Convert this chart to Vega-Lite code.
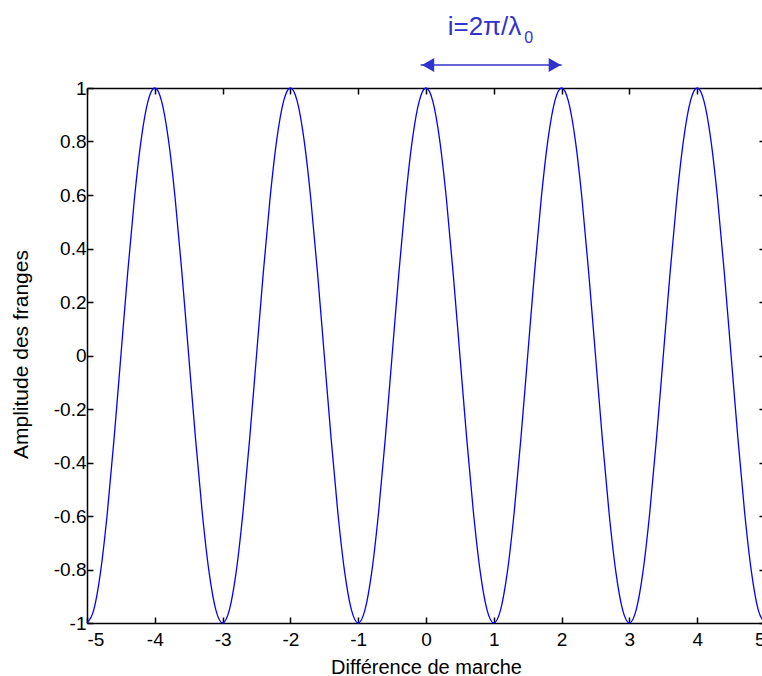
{
  "$schema": "https://vega.github.io/schema/vega-lite/v6.json",
  "width": 678,
  "height": 535,
  "autosize": {"type": "none"},
  "padding": {"left": 87, "top": 88, "right": 0, "bottom": 53},
  "background": "white",
  "config": {
    "view": {"stroke": null},
    "axis": {
      "labelFont": "Liberation Sans",
      "labelFontSize": 19,
      "labelColor": "black",
      "titleFont": "Liberation Sans",
      "titleFontSize": 20,
      "titleFontWeight": "normal",
      "titleColor": "black",
      "domainColor": "black",
      "domainWidth": 1.5,
      "tickColor": "black",
      "tickWidth": 1.5,
      "tickSize": -6,
      "grid": false
    }
  },
  "datasets": {
    "curve": [
      {"x": -5, "y": -1}, {"x": -4.9, "y": -0.9511}, {"x": -4.8, "y": -0.809}, {"x": -4.7, "y": -0.5878}, {"x": -4.6, "y": -0.309},
      {"x": -4.5, "y": 0}, {"x": -4.4, "y": 0.309}, {"x": -4.3, "y": 0.5878}, {"x": -4.2, "y": 0.809}, {"x": -4.1, "y": 0.9511},
      {"x": -4, "y": 1}, {"x": -3.9, "y": 0.9511}, {"x": -3.8, "y": 0.809}, {"x": -3.7, "y": 0.5878}, {"x": -3.6, "y": 0.309},
      {"x": -3.5, "y": 0}, {"x": -3.4, "y": -0.309}, {"x": -3.3, "y": -0.5878}, {"x": -3.2, "y": -0.809}, {"x": -3.1, "y": -0.9511},
      {"x": -3, "y": -1}, {"x": -2.9, "y": -0.9511}, {"x": -2.8, "y": -0.809}, {"x": -2.7, "y": -0.5878}, {"x": -2.6, "y": -0.309},
      {"x": -2.5, "y": 0}, {"x": -2.4, "y": 0.309}, {"x": -2.3, "y": 0.5878}, {"x": -2.2, "y": 0.809}, {"x": -2.1, "y": 0.9511},
      {"x": -2, "y": 1}, {"x": -1.9, "y": 0.9511}, {"x": -1.8, "y": 0.809}, {"x": -1.7, "y": 0.5878}, {"x": -1.6, "y": 0.309},
      {"x": -1.5, "y": 0}, {"x": -1.4, "y": -0.309}, {"x": -1.3, "y": -0.5878}, {"x": -1.2, "y": -0.809}, {"x": -1.1, "y": -0.9511},
      {"x": -1, "y": -1}, {"x": -0.9, "y": -0.9511}, {"x": -0.8, "y": -0.809}, {"x": -0.7, "y": -0.5878}, {"x": -0.6, "y": -0.309},
      {"x": -0.5, "y": 0}, {"x": -0.4, "y": 0.309}, {"x": -0.3, "y": 0.5878}, {"x": -0.2, "y": 0.809}, {"x": -0.1, "y": 0.9511},
      {"x": 0, "y": 1}, {"x": 0.1, "y": 0.9511}, {"x": 0.2, "y": 0.809}, {"x": 0.3, "y": 0.5878}, {"x": 0.4, "y": 0.309},
      {"x": 0.5, "y": 0}, {"x": 0.6, "y": -0.309}, {"x": 0.7, "y": -0.5878}, {"x": 0.8, "y": -0.809}, {"x": 0.9, "y": -0.9511},
      {"x": 1, "y": -1}, {"x": 1.1, "y": -0.9511}, {"x": 1.2, "y": -0.809}, {"x": 1.3, "y": -0.5878}, {"x": 1.4, "y": -0.309},
      {"x": 1.5, "y": 0}, {"x": 1.6, "y": 0.309}, {"x": 1.7, "y": 0.5878}, {"x": 1.8, "y": 0.809}, {"x": 1.9, "y": 0.9511},
      {"x": 2, "y": 1}, {"x": 2.1, "y": 0.9511}, {"x": 2.2, "y": 0.809}, {"x": 2.3, "y": 0.5878}, {"x": 2.4, "y": 0.309},
      {"x": 2.5, "y": 0}, {"x": 2.6, "y": -0.309}, {"x": 2.7, "y": -0.5878}, {"x": 2.8, "y": -0.809}, {"x": 2.9, "y": -0.9511},
      {"x": 3, "y": -1}, {"x": 3.1, "y": -0.9511}, {"x": 3.2, "y": -0.809}, {"x": 3.3, "y": -0.5878}, {"x": 3.4, "y": -0.309},
      {"x": 3.5, "y": 0}, {"x": 3.6, "y": 0.309}, {"x": 3.7, "y": 0.5878}, {"x": 3.8, "y": 0.809}, {"x": 3.9, "y": 0.9511},
      {"x": 4, "y": 1}, {"x": 4.1, "y": 0.9511}, {"x": 4.2, "y": 0.809}, {"x": 4.3, "y": 0.5878}, {"x": 4.4, "y": 0.309},
      {"x": 4.5, "y": 0}, {"x": 4.6, "y": -0.309}, {"x": 4.7, "y": -0.5878}, {"x": 4.8, "y": -0.809}, {"x": 4.9, "y": -0.9511},
      {"x": 5, "y": -1}
    ],
    "arrow": [{"x": -0.08, "x2": 2.0, "y": 1.086}],
    "heads": [{"x": 0.03, "y": 1.086, "end": "left"}, {"x": 1.9, "y": 1.086, "end": "right"}],
    "label": [{"x": 0.32, "y": 1.198, "t": "i=2π/λ"}],
    "sub": [{"x": 1.45, "y": 1.168, "t": "0"}]
  },
  "layer": [
    {
      "data": {"name": "curve"},
      "mark": {"type": "line", "color": "#0000ff", "strokeWidth": 1.3, "interpolate": "monotone"},
      "encoding": {
        "x": {
          "field": "x", "type": "quantitative",
          "scale": {"domain": [-5, 5], "nice": false, "zero": false},
          "axis": {
            "orient": "bottom",
            "values": [-5, -4, -3, -2, -1, 0, 1, 2, 3, 4, 5],
            "labelExpr": "'' + datum.value",
            "labelPadding": 13,
            "title": "Différence de marche",
            "titleX": 339, "titleY": 50, "titleAlign": "center", "titleBaseline": "alphabetic"
          }
        },
        "y": {
          "field": "y", "type": "quantitative",
          "scale": {"domain": [-1, 1], "nice": false, "zero": false},
          "axis": {
            "orient": "left",
            "values": [-1, -0.8, -0.6, -0.4, -0.2, 0, 0.2, 0.4, 0.6, 0.8, 1],
            "labelExpr": "'' + datum.value",
            "labelPadding": 7,
            "title": "Amplitude des franges",
            "titleFontSize": 21,
            "titleAngle": -90,
            "titleX": -60, "titleY": 266, "titleAlign": "center", "titleBaseline": "alphabetic"
          }
        }
      }
    },
    {
      "data": {"name": "arrow"},
      "mark": {"type": "rule", "color": "#3333cc", "strokeWidth": 1.5},
      "encoding": {
        "x": {
          "field": "x", "type": "quantitative",
          "scale": {"domain": [-5, 5], "nice": false, "zero": false},
          "axis": {"orient": "top", "values": [-5, -4, -3, -2, -1, 0, 1, 2, 3, 4, 5], "labels": false, "title": null}
        },
        "x2": {"field": "x2"},
        "y": {
          "field": "y", "type": "quantitative",
          "scale": {"domain": [-1, 1], "nice": false, "zero": false},
          "axis": {"orient": "right", "values": [-1, -0.8, -0.6, -0.4, -0.2, 0, 0.2, 0.4, 0.6, 0.8, 1], "labels": false, "title": null}
        }
      }
    },
    {
      "data": {"name": "heads"},
      "mark": {"type": "point", "filled": true, "color": "#3333cc", "opacity": 1, "size": 200},
      "encoding": {
        "x": {"field": "x", "type": "quantitative", "axis": null},
        "y": {"field": "y", "type": "quantitative", "axis": null},
        "shape": {
          "field": "end", "type": "nominal",
          "scale": {"domain": ["left", "right"], "range": ["triangle-left", "triangle-right"]},
          "legend": null
        }
      }
    },
    {
      "data": {"name": "label"},
      "mark": {"type": "text", "font": "Liberation Sans", "fontSize": 26, "color": "#3333cc", "align": "left", "baseline": "alphabetic"},
      "encoding": {
        "x": {"field": "x", "type": "quantitative", "axis": null},
        "y": {"field": "y", "type": "quantitative", "axis": null},
        "text": {"field": "t"}
      }
    },
    {
      "data": {"name": "sub"},
      "mark": {"type": "text", "font": "Liberation Sans", "fontSize": 16, "color": "#3333cc", "align": "left", "baseline": "alphabetic"},
      "encoding": {
        "x": {"field": "x", "type": "quantitative", "axis": null},
        "y": {"field": "y", "type": "quantitative", "axis": null},
        "text": {"field": "t"}
      }
    }
  ],
  "resolve": {"axis": {"x": "independent", "y": "independent"}}
}
